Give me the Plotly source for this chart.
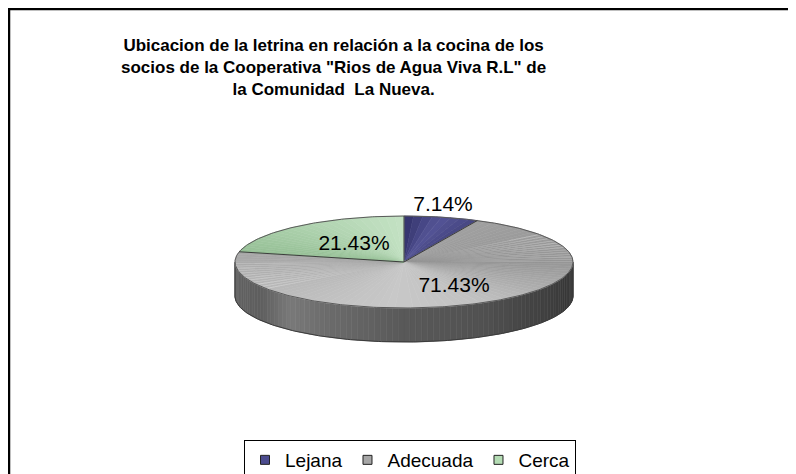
import numpy as np
import plotly.graph_objects as go

# ---- data ----
categories = ["Lejana", "Adecuada", "Cerca"]
values = [7.14, 71.43, 21.43]
value_labels = ["7.14%", "71.43%", "21.43%"]
title_text = ("<b>Ubicacion de la letrina en relación a la cocina de los<br>"
              "socios de la Cooperativa \"Rios de Agua Viva R.L\" de<br>"
              "la Comunidad  La Nueva.</b>")

# ---- styles / geometry ----
W, H = 796, 474
OX, OY = 8, 8   # page body offset
cx, cy, a, b, depth = 404, 262, 169, 46, 34
legend_colors = ["#4b4b8e", "#a6a6a6", "#b4dcb4"]
grad = {
    "Lejana": [(0.0, (50, 50, 106)), (0.5, (84, 84, 150)), (1.0, (70, 70, 130))],
    "Adecuada": [(0.0, (160, 160, 160)), (0.25, (150, 150, 150)), (0.5, (194, 194, 194)),
                 (0.62, (200, 200, 200)), (0.8, (186, 186, 186)), (1.0, (166, 166, 166))],
    "Cerca": [(0.0, (150, 192, 150)), (1.0, (196, 226, 196))],
}
label_pos = {"Lejana": (443, 206), "Adecuada": (454, 287), "Cerca": (354, 245)}


def interp(keys, f):
    for (f0, c0), (f1, c1) in zip(keys[:-1], keys[1:]):
        if f0 <= f <= f1:
            t = 0 if f1 == f0 else (f - f0) / (f1 - f0)
            c = [int(round(c0[i] + (c1[i] - c0[i]) * t)) for i in range(3)]
            return "rgb(%d,%d,%d)" % tuple(c)
    return "rgb(%d,%d,%d)" % keys[-1][1]


def ell(theta, dy=0.0):
    t = np.radians(theta)
    return cx + a * np.sin(t), cy - b * np.cos(t) + dy


fig = go.Figure()

# ---- side wall (front half) ----
side_keys_x = [235, 260, 290, 320, 400, 480, 540, 573]
side_keys_v = [100, 94, 122, 110, 90, 82, 66, 56]
n_side = 90
ths = np.linspace(90, 270, n_side + 1)
for i in range(n_side):
    t0, t1 = ths[i], ths[i + 1]
    tt = np.linspace(t0, t1, 4)
    xs_top, ys_top = ell(tt)
    xs_bot, ys_bot = ell(tt[::-1], depth)
    xm, _ = ell((t0 + t1) / 2)
    v = int(np.interp(xm, side_keys_x, side_keys_v))
    col = "rgb(%d,%d,%d)" % (v, v, v)
    fig.add_trace(go.Scatter(
        x=list(xs_top) + list(xs_bot) + [xs_top[0]],
        y=list(ys_top) + list(ys_bot) + [ys_top[0]],
        mode="lines", fill="toself", fillcolor=col,
        line=dict(color=col, width=0.6), hoverinfo="skip", showlegend=False))

tt = np.linspace(90, 270, 200)
bx, by = ell(tt, depth)
fig.add_trace(go.Scatter(x=bx, y=by, mode="lines", line=dict(color="#3a3a3a", width=1),
                         hoverinfo="skip", showlegend=False))
for th in (90, 270):
    x0, y0 = ell(th)
    x1, y1 = ell(th, depth)
    fig.add_trace(go.Scatter(x=[x0, x1], y=[y0, y1], mode="lines",
                             line=dict(color="#3a3a3a", width=1),
                             hoverinfo="skip", showlegend=False))

# ---- top faces ----
total = sum(values)
start = 0.0
bounds = []
for cat, val in zip(categories, values):
    span = 360.0 * val / total
    end = start + span
    bounds.append(start)
    nsub = max(4, int(span / 3))
    edges = np.linspace(start, end, nsub + 1)
    for j in range(nsub):
        e0, e1 = edges[j], edges[j + 1]
        tt = np.linspace(e0, e1, 5)
        xs, ys = ell(tt)
        f = ((e0 + e1) / 2 - start) / span
        col = interp(grad[cat], f)
        fig.add_trace(go.Scatter(
            x=[cx] + list(xs) + [cx], y=[cy] + list(ys) + [cy],
            mode="lines", fill="toself", fillcolor=col,
            line=dict(color=col, width=0.6), hoverinfo="skip", showlegend=False))
    start = end

tt = np.linspace(0, 360, 400)
ex, ey = ell(tt)
fig.add_trace(go.Scatter(x=ex, y=ey, mode="lines", line=dict(color="#5a5a5a", width=1),
                         hoverinfo="skip", showlegend=False))
for th in bounds:
    x1, y1 = ell(th)
    fig.add_trace(go.Scatter(x=[cx, x1], y=[cy, y1], mode="lines",
                             line=dict(color="#3c3c3c", width=1),
                             hoverinfo="skip", showlegend=False))

# ---- value labels ----
fig.add_trace(go.Scatter(
    x=[label_pos[c][0] for c in categories],
    y=[label_pos[c][1] for c in categories],
    text=value_labels, mode="text",
    textfont=dict(family="Liberation Sans, Arial", size=21, color="#000000"),
    hoverinfo="skip", showlegend=False))

# ---- legend entries ----
for cat, col in zip(categories, legend_colors):
    fig.add_trace(go.Scatter(
        x=[None], y=[None], mode="markers", name=cat,
        marker=dict(symbol="square", size=9, color=col,
                    line=dict(color="#222222", width=1))))

fig.update_layout(
    width=W, height=H,
    margin=dict(l=0, r=0, t=0, b=0),
    paper_bgcolor="white", plot_bgcolor="white",
    xaxis=dict(range=[OX, OX + W], visible=False, fixedrange=True, domain=[0, 1]),
    yaxis=dict(range=[OY + H, OY], visible=False, fixedrange=True, domain=[0, 1]),
    showlegend=True,
    legend=dict(orientation="h", x=(244 - OX) / W, xanchor="left",
                y=1 - (440 - OY) / H, yanchor="top",
                bordercolor="#000000", borderwidth=1,
                font=dict(family="Liberation Sans, Arial", size=19, color="#000000"),
                itemwidth=30, tracegroupgap=0, bgcolor="white"),
    annotations=[dict(
        text=title_text, x=333, y=67, xref="x", yref="y",
        xanchor="center", yanchor="middle", showarrow=False, align="center",
        font=dict(family="Liberation Sans, Arial", size=17, color="#000000"))],
    shapes=[dict(type="rect", xref="x", yref="y", x0=9, y0=9, x1=OX + W + 20, y1=OY + H + 20,
                 line=dict(color="#000000", width=2.5), fillcolor="rgba(0,0,0,0)",
                 layer="below")],
)

fig.write_html("out.html")
